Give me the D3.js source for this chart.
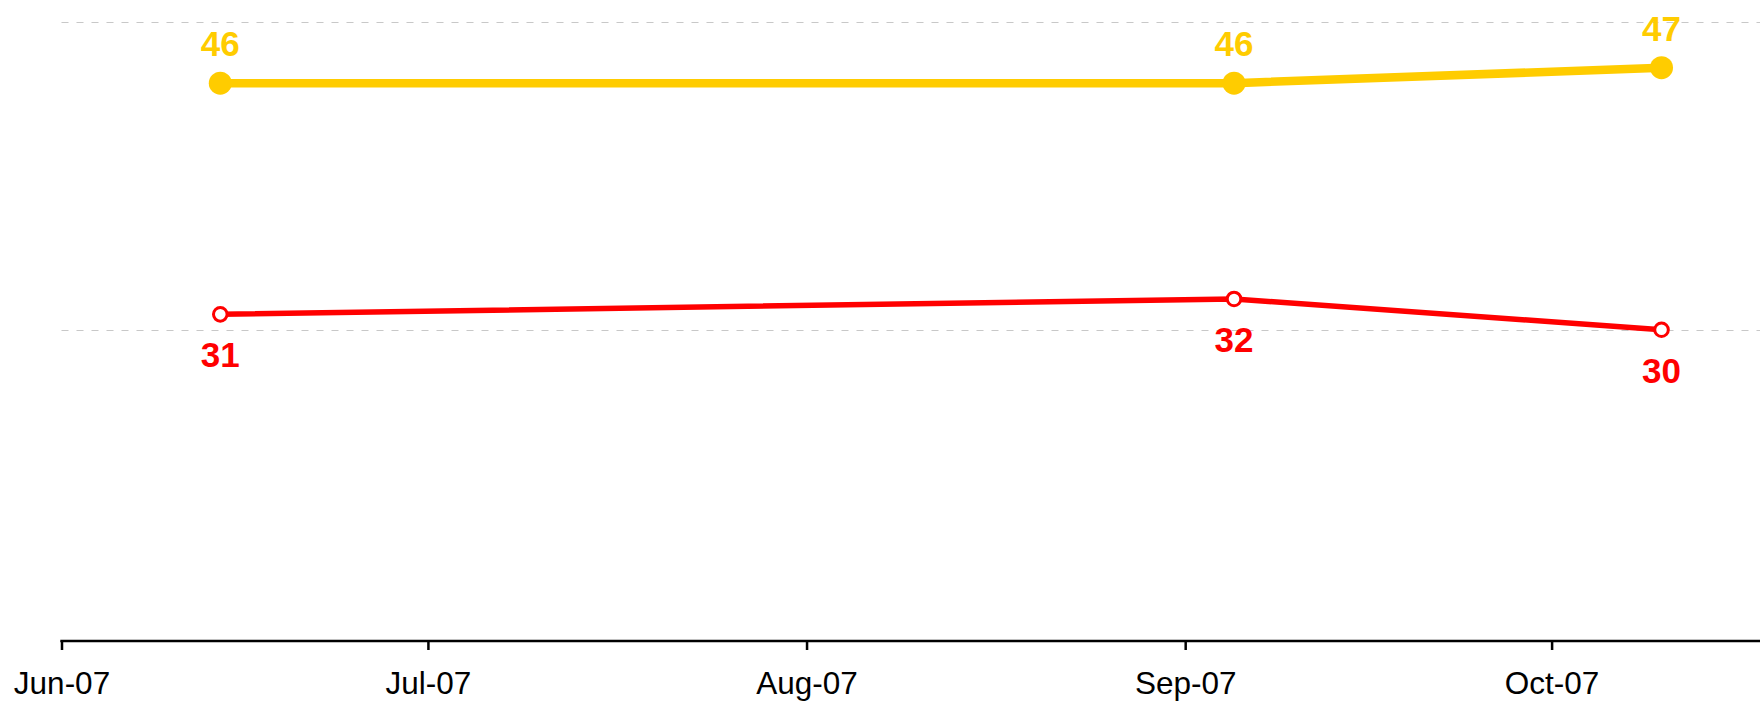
<!DOCTYPE html>
<html>
<head>
<meta charset="utf-8">
<script src="https://cdn.jsdelivr.net/npm/d3@7"></script>
<style>
  html, body { margin: 0; padding: 0; background: #fff; }
  svg { display: block; }
</style>
</head>
<body>
<svg id="chart" width="1760" height="701"></svg>
<script>
// Survey dates and the two tracked series
const dates = ["2007-06-14", "2007-09-05", "2007-10-10"];
const seriesYellow = [46, 46, 47];
const seriesRed = [31, 32, 30];
const tickMonths = ["2007-06-01", "2007-07-01", "2007-08-01", "2007-09-01", "2007-10-01"];
const gridValues = [30, 50];

const W = 1760, H = 701;
const parse = d3.utcParse("%Y-%m-%d");
const fmt = d3.utcFormat("%b-%y");

const svg = d3.select("#chart");

const x = d3.scaleUtc()
  .domain([parse("2007-06-01"), parse("2007-10-01")])
  .range([61.5, 1551.6]);

const y = d3.scaleLinear()
  .domain([10, 50])
  .range([638, 21.5]);

// Dashed horizontal gridlines
svg.append("g")
  .selectAll("line")
  .data(gridValues)
  .join("line")
  .attr("x1", x.range()[0])
  .attr("x2", W)
  .attr("y1", d => Math.round(y(d)) + 0.5)
  .attr("y2", d => Math.round(y(d)) + 0.5)
  .attr("stroke", "#c8c8c8")
  .attr("stroke-width", 1.2)
  .attr("stroke-dasharray", "7,8");

// Bottom date axis
const axisY = 641;
const axis = d3.axisBottom(x)
  .tickValues(tickMonths.map(parse))
  .tickFormat(fmt)
  .tickSize(9)
  .tickSizeOuter(0)
  .tickPadding(22);

const gx = svg.append("g")
  .attr("transform", `translate(0,${axisY})`)
  .call(axis);
gx.select(".domain").remove();
gx.append("line")
  .attr("x1", x.range()[0] - 1.2)
  .attr("x2", W)
  .attr("y1", 0).attr("y2", 0)
  .attr("stroke", "#000")
  .attr("stroke-width", 2.5);
gx.selectAll(".tick line").attr("stroke", "#000").attr("stroke-width", 2.5);
gx.selectAll(".tick text")
  .attr("fill", "#000")
  .style("font-family", "'Liberation Sans', Arial, sans-serif")
  .style("font-size", "31.5px");

const line = d3.line()
  .x((d, i) => x(parse(dates[i])))
  .y(d => y(d));

// Yellow series
svg.append("path")
  .datum(seriesYellow)
  .attr("d", line)
  .attr("fill", "none")
  .attr("stroke", "#FFCC00")
  .attr("stroke-width", 8.5);

svg.append("g")
  .selectAll("circle")
  .data(seriesYellow)
  .join("circle")
  .attr("cx", (d, i) => x(parse(dates[i])))
  .attr("cy", d => y(d))
  .attr("r", 11.5)
  .attr("fill", "#FFCC00");

svg.append("g")
  .selectAll("text")
  .data(seriesYellow)
  .join("text")
  .attr("x", (d, i) => x(parse(dates[i])))
  .attr("y", d => y(d) - 27)
  .attr("text-anchor", "middle")
  .attr("fill", "#FFCC00")
  .style("font-family", "'Liberation Sans', Arial, sans-serif")
  .style("font-weight", "bold")
  .style("font-size", "35px")
  .text(d => d);

// Red series
svg.append("path")
  .datum(seriesRed)
  .attr("d", line)
  .attr("fill", "none")
  .attr("stroke", "#FF0000")
  .attr("stroke-width", 5.5);

svg.append("g")
  .selectAll("circle")
  .data(seriesRed)
  .join("circle")
  .attr("cx", (d, i) => x(parse(dates[i])))
  .attr("cy", d => y(d))
  .attr("r", 6.8)
  .attr("fill", "#fff")
  .attr("stroke", "#FF0000")
  .attr("stroke-width", 3);

svg.append("g")
  .selectAll("text")
  .data(seriesRed)
  .join("text")
  .attr("x", (d, i) => x(parse(dates[i])))
  .attr("y", d => y(d) + 53)
  .attr("text-anchor", "middle")
  .attr("fill", "#FF0000")
  .style("font-family", "'Liberation Sans', Arial, sans-serif")
  .style("font-weight", "bold")
  .style("font-size", "35px")
  .text(d => d);
</script>
</body>
</html>
